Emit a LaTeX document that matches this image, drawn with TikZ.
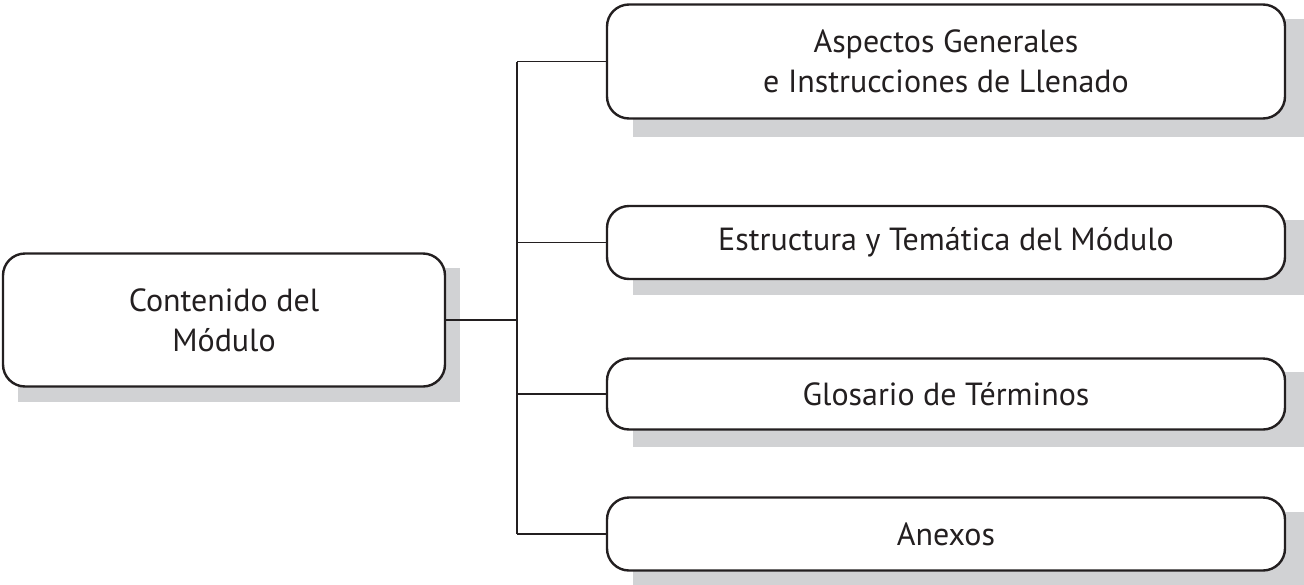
\documentclass[tikz,border=0pt]{standalone}
\usepackage{fontspec}
\setmainfont{PT Sans}
\definecolor{shadowgray}{RGB}{209,210,212}
\definecolor{inkdark}{RGB}{35,31,32}
\tikzset{
  box/.style={draw=inkdark, line width=2.4pt, rounded corners=22pt, fill=white,
    align=center, inner sep=0pt, text=inkdark,
    font=\fontsize{32}{40}\selectfont},
  shadowbox/.style={fill=shadowgray},
  link/.style={draw=inkdark, line width=1.5pt}
}
\begin{document}
\begin{tikzpicture}[x=1pt,y=-1pt]
\useasboundingbox (0,0) rectangle (1304,584);
% shadows
\fill[shadowgray] (18,268) rectangle (460,402);
\fill[shadowgray] (633,19) rectangle (1310,137);
\fill[shadowgray] (633,220) rectangle (1310,295);
\fill[shadowgray] (633,372) rectangle (1310,447);
\fill[shadowgray] (633,512) rectangle (1310,590);
% nodes
\node[box, minimum width=442pt, minimum height=133pt] (L) at (224,320) {Contenido del\\Módulo};
\node[box, minimum width=678pt, minimum height=114pt] (B1) at (946,61.5) {Aspectos Generales\\e Instrucciones de Llenado};
\node[box, minimum width=678pt, minimum height=73pt] (B2) at (946,242.5) {Estructura y Temática del Módulo};
\node[box, minimum width=678pt, minimum height=71pt] (B3) at (946,394) {Glosario de Términos};
\node[box, minimum width=678pt, minimum height=73pt] (B4) at (946,534) {Anexos};
% connectors
\coordinate (J) at (517,320);
\coordinate (T1) at (517,61.5);
\coordinate (T4) at (517,534);
\draw[link] (L.east) -- (J);
\draw[link] (T1) -- (T4);
\draw[link] (T1) -- (B1.west);
\draw[link] (B2.west -| J) -- (B2.west);
\draw[link] (B3.west -| J) -- (B3.west);
\draw[link] (T4) -- (B4.west);
\end{tikzpicture}
\end{document}
